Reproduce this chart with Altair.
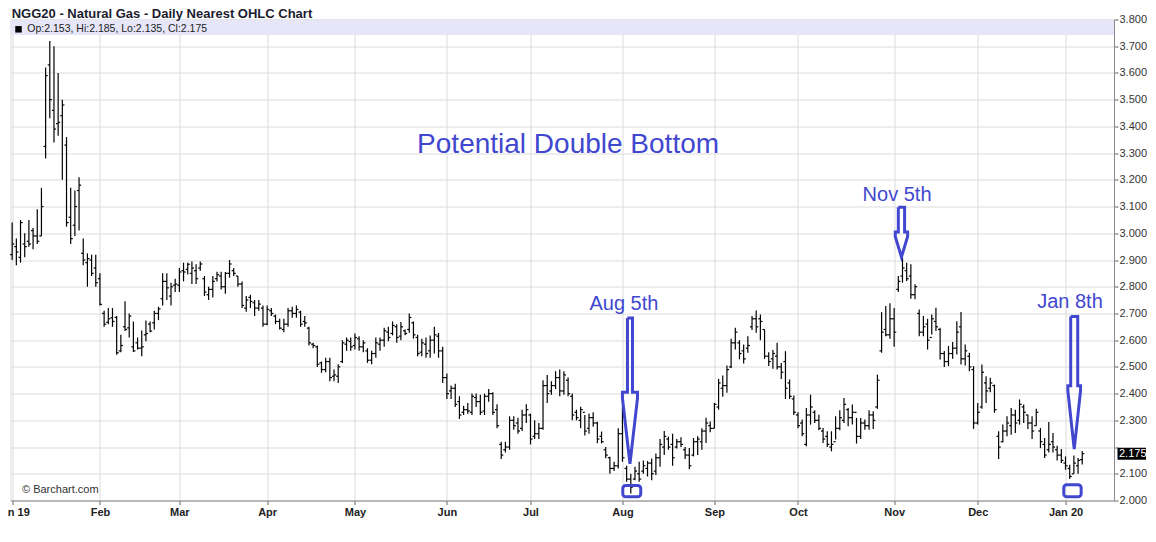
import altair as alt
import pandas as pd

TITLE = "NGG20 - Natural Gas - Daily Nearest OHLC Chart"
HEADLINE = "Potential Double Bottom"
SOURCE = "\u00a9 Barchart.com"

# Daily OHLC, one value per trading day (Jan 2 2019 .. Jan 8 2020)
OPEN = [
    2.92, 2.95, 2.91, 2.96, 2.97, 3.01, 2.99, 2.99, 3.325, 3.63,
    3.46, 3.41, 3.44, 3.33, 3.06, 3.03, 3.16, 2.925, 2.89, 2.90,
    2.87, 2.83, 2.70, 2.667, 2.684, 2.685, 2.56, 2.65, 2.646, 2.575,
    2.59, 2.57, 2.62, 2.66, 2.665, 2.70, 2.755, 2.82, 2.765, 2.806,
    2.806, 2.86, 2.865, 2.85, 2.86, 2.87, 2.83, 2.77, 2.79, 2.83,
    2.84, 2.80, 2.85, 2.86, 2.84, 2.81, 2.72, 2.76, 2.74, 2.72,
    2.72, 2.66, 2.71, 2.69, 2.67, 2.64, 2.66, 2.71, 2.70, 2.705,
    2.67, 2.645, 2.585, 2.575, 2.515, 2.49, 2.52, 2.465, 2.465, 2.52,
    2.585, 2.595, 2.58, 2.605, 2.575, 2.56, 2.525, 2.55, 2.585, 2.60,
    2.63, 2.625, 2.65, 2.615, 2.635, 2.64, 2.665, 2.61, 2.555, 2.585,
    2.56, 2.60, 2.615, 2.56, 2.46, 2.41, 2.42, 2.37, 2.33, 2.34,
    2.33, 2.385, 2.37, 2.335, 2.39, 2.40, 2.34, 2.21, 2.19, 2.20,
    2.30, 2.29, 2.27, 2.32, 2.32, 2.24, 2.25, 2.27, 2.43, 2.41,
    2.43, 2.46, 2.41, 2.45, 2.39, 2.33, 2.30, 2.33, 2.27, 2.31,
    2.29, 2.24, 2.19, 2.16, 2.12, 2.13, 2.25, 2.12, 2.08, 2.08,
    2.10, 2.11, 2.12, 2.14, 2.11, 2.16, 2.20, 2.23, 2.21, 2.20,
    2.22, 2.19, 2.17, 2.17, 2.22, 2.22, 2.26, 2.28, 2.27, 2.35,
    2.42, 2.43, 2.50, 2.59, 2.59, 2.56, 2.57, 2.65, 2.68, 2.68,
    2.64, 2.54, 2.53, 2.54, 2.50, 2.52, 2.44, 2.38, 2.32, 2.29,
    2.21, 2.32, 2.33, 2.30, 2.26, 2.24, 2.20, 2.22, 2.27, 2.30,
    2.34, 2.31, 2.33, 2.24, 2.29, 2.28, 2.32, 2.35, 2.56, 2.64,
    2.62, 2.68, 2.79, 2.84, 2.86, 2.84, 2.77, 2.70, 2.63, 2.66,
    2.61, 2.67, 2.64, 2.55, 2.52, 2.55, 2.57, 2.65, 2.53, 2.54,
    2.49, 2.29, 2.35, 2.44, 2.42, 2.43, 2.24, 2.22, 2.26, 2.28,
    2.32, 2.30, 2.35, 2.32, 2.29, 2.28, 2.26, 2.21, 2.19, 2.22,
    2.19, 2.17, 2.14, 2.12, 2.10, 2.13, 2.153,
]
HIGH = [
    3.04, 2.98, 3.05, 3.00, 3.05, 3.02, 3.09, 3.17, 3.62, 3.72,
    3.70, 3.60, 3.50, 3.36, 3.17, 3.16, 3.21, 2.98, 2.925, 2.92,
    2.92, 2.85, 2.71, 2.72, 2.72, 2.69, 2.62, 2.746, 2.70, 2.67,
    2.61, 2.636, 2.674, 2.67, 2.71, 2.725, 2.85, 2.85, 2.815, 2.83,
    2.87, 2.89, 2.89, 2.894, 2.884, 2.894, 2.84, 2.80, 2.84, 2.856,
    2.856, 2.855, 2.90, 2.87, 2.84, 2.82, 2.765, 2.77, 2.75, 2.75,
    2.73, 2.73, 2.72, 2.696, 2.68, 2.68, 2.72, 2.725, 2.73, 2.71,
    2.69, 2.65, 2.59, 2.58, 2.52, 2.534, 2.534, 2.49, 2.51, 2.60,
    2.61, 2.61, 2.625, 2.615, 2.60, 2.57, 2.56, 2.61, 2.61, 2.646,
    2.65, 2.67, 2.66, 2.668, 2.64, 2.70, 2.67, 2.62, 2.605, 2.61,
    2.617, 2.65, 2.627, 2.575, 2.475, 2.43, 2.437, 2.39, 2.355, 2.365,
    2.40, 2.40, 2.396, 2.40, 2.417, 2.405, 2.36, 2.22, 2.22, 2.315,
    2.315, 2.31, 2.34, 2.36, 2.325, 2.30, 2.29, 2.45, 2.47, 2.446,
    2.484, 2.49, 2.484, 2.46, 2.40, 2.34, 2.351, 2.32, 2.326, 2.33,
    2.295, 2.258, 2.20, 2.164, 2.145, 2.27, 2.35, 2.13, 2.10, 2.126,
    2.145, 2.15, 2.148, 2.157, 2.176, 2.23, 2.26, 2.239, 2.25, 2.23,
    2.237, 2.20, 2.196, 2.234, 2.24, 2.27, 2.31, 2.296, 2.365, 2.455,
    2.468, 2.505, 2.605, 2.646, 2.60, 2.584, 2.615, 2.69, 2.711, 2.696,
    2.64, 2.555, 2.563, 2.59, 2.515, 2.559, 2.453, 2.393, 2.33, 2.303,
    2.346, 2.396, 2.338, 2.321, 2.271, 2.259, 2.259, 2.315, 2.338, 2.384,
    2.346, 2.359, 2.309, 2.309, 2.303, 2.338, 2.334, 2.471, 2.705, 2.728,
    2.738, 2.72, 2.84, 2.909, 2.89, 2.884, 2.809, 2.715, 2.69, 2.68,
    2.696, 2.721, 2.646, 2.559, 2.578, 2.593, 2.671, 2.705, 2.584, 2.553,
    2.503, 2.365, 2.509, 2.465, 2.459, 2.434, 2.259, 2.284, 2.315, 2.346,
    2.34, 2.378, 2.359, 2.321, 2.315, 2.343, 2.271, 2.234, 2.294, 2.253,
    2.205, 2.193, 2.165, 2.134, 2.168, 2.159, 2.185,
]
LOW = [
    2.90, 2.88, 2.89, 2.91, 2.95, 2.94, 2.96, 2.99, 3.28, 3.43,
    3.34, 3.365, 3.20, 3.025, 2.96, 2.99, 3.01, 2.88, 2.80, 2.84,
    2.80, 2.73, 2.65, 2.66, 2.65, 2.545, 2.555, 2.634, 2.61, 2.556,
    2.565, 2.54, 2.596, 2.63, 2.64, 2.675, 2.73, 2.75, 2.73, 2.78,
    2.78, 2.82, 2.846, 2.81, 2.81, 2.86, 2.765, 2.75, 2.76, 2.82,
    2.79, 2.774, 2.834, 2.84, 2.80, 2.72, 2.706, 2.72, 2.69, 2.71,
    2.65, 2.656, 2.69, 2.66, 2.64, 2.63, 2.65, 2.684, 2.684, 2.65,
    2.65, 2.58, 2.57, 2.50, 2.478, 2.48, 2.446, 2.446, 2.44, 2.515,
    2.56, 2.56, 2.565, 2.56, 2.555, 2.515, 2.51, 2.534, 2.56, 2.575,
    2.596, 2.618, 2.59, 2.60, 2.618, 2.628, 2.606, 2.54, 2.54, 2.534,
    2.534, 2.55, 2.534, 2.44, 2.38, 2.38, 2.35, 2.305, 2.32, 2.325,
    2.32, 2.35, 2.32, 2.32, 2.37, 2.32, 2.27, 2.155, 2.18, 2.19,
    2.265, 2.25, 2.26, 2.29, 2.21, 2.23, 2.23, 2.265, 2.365, 2.396,
    2.417, 2.39, 2.396, 2.39, 2.30, 2.30, 2.27, 2.243, 2.25, 2.276,
    2.214, 2.214, 2.158, 2.10, 2.11, 2.12, 2.145, 2.07, 2.026, 2.076,
    2.07, 2.10, 2.09, 2.076, 2.095, 2.126, 2.17, 2.19, 2.13, 2.195,
    2.20, 2.155, 2.117, 2.165, 2.17, 2.19, 2.215, 2.255, 2.27, 2.34,
    2.388, 2.403, 2.496, 2.565, 2.528, 2.513, 2.553, 2.638, 2.628, 2.60,
    2.53, 2.503, 2.493, 2.49, 2.455, 2.38, 2.38, 2.32, 2.27, 2.24,
    2.203, 2.284, 2.29, 2.263, 2.215, 2.20, 2.184, 2.228, 2.263, 2.29,
    2.278, 2.284, 2.213, 2.23, 2.265, 2.265, 2.268, 2.343, 2.553, 2.615,
    2.605, 2.575, 2.78, 2.815, 2.821, 2.755, 2.753, 2.615, 2.615, 2.565,
    2.621, 2.634, 2.528, 2.50, 2.503, 2.53, 2.546, 2.509, 2.505, 2.484,
    2.268, 2.284, 2.343, 2.365, 2.405, 2.328, 2.155, 2.218, 2.24, 2.246,
    2.253, 2.284, 2.29, 2.268, 2.23, 2.28, 2.196, 2.159, 2.18, 2.18,
    2.15, 2.14, 2.115, 2.08, 2.10, 2.10, 2.135,
]
CLOSE = [
    2.96, 2.93, 3.04, 2.95, 2.96, 2.99, 2.97, 3.10, 3.59, 3.50,
    3.39, 3.415, 3.48, 3.04, 2.98, 3.10, 3.18, 2.90, 2.905, 2.85,
    2.815, 2.734, 2.66, 2.68, 2.67, 2.553, 2.58, 2.64, 2.69, 2.56,
    2.57, 2.575, 2.625, 2.634, 2.70, 2.717, 2.82, 2.796, 2.80, 2.81,
    2.855, 2.855, 2.884, 2.87, 2.83, 2.885, 2.78, 2.79, 2.82, 2.845,
    2.80, 2.85, 2.885, 2.85, 2.81, 2.73, 2.75, 2.745, 2.72, 2.735,
    2.66, 2.715, 2.70, 2.67, 2.645, 2.66, 2.71, 2.70, 2.715, 2.66,
    2.665, 2.59, 2.58, 2.51, 2.49, 2.52, 2.46, 2.47, 2.50, 2.59,
    2.60, 2.575, 2.61, 2.575, 2.59, 2.525, 2.55, 2.59, 2.60, 2.635,
    2.61, 2.655, 2.61, 2.65, 2.625, 2.685, 2.62, 2.55, 2.59, 2.55,
    2.60, 2.62, 2.56, 2.46, 2.40, 2.42, 2.36, 2.32, 2.34, 2.335,
    2.39, 2.37, 2.33, 2.39, 2.40, 2.33, 2.28, 2.17, 2.20, 2.30,
    2.28, 2.26, 2.32, 2.34, 2.23, 2.25, 2.27, 2.43, 2.40, 2.43,
    2.46, 2.41, 2.47, 2.40, 2.32, 2.31, 2.34, 2.26, 2.31, 2.29,
    2.23, 2.22, 2.17, 2.12, 2.13, 2.25, 2.16, 2.08, 2.05, 2.11,
    2.08, 2.13, 2.14, 2.10, 2.16, 2.21, 2.24, 2.20, 2.16, 2.22,
    2.21, 2.17, 2.13, 2.22, 2.23, 2.26, 2.29, 2.27, 2.36, 2.44,
    2.43, 2.49, 2.59, 2.63, 2.55, 2.53, 2.58, 2.68, 2.65, 2.67,
    2.54, 2.52, 2.55, 2.50, 2.48, 2.42, 2.39, 2.33, 2.28, 2.25,
    2.32, 2.35, 2.30, 2.27, 2.23, 2.21, 2.21, 2.27, 2.31, 2.36,
    2.31, 2.33, 2.24, 2.29, 2.28, 2.32, 2.30, 2.45, 2.63, 2.62,
    2.68, 2.63, 2.82, 2.87, 2.83, 2.77, 2.80, 2.63, 2.65, 2.60,
    2.68, 2.65, 2.55, 2.52, 2.55, 2.57, 2.63, 2.53, 2.56, 2.50,
    2.29, 2.33, 2.48, 2.41, 2.44, 2.34, 2.20, 2.26, 2.29, 2.32,
    2.29, 2.36, 2.33, 2.29, 2.26, 2.33, 2.22, 2.17, 2.21, 2.20,
    2.17, 2.15, 2.13, 2.09, 2.14, 2.15, 2.175,
]

# first trading bar of each month and its axis label
MONTH_BARS = [0, 21, 40, 61, 82, 104, 124, 146, 168, 188, 211, 231, 252]
MONTH_LABELS = ["Jan 19", "Feb", "Mar", "Apr", "May", "Jun", "Jul",
                "Aug", "Sep", "Oct", "Nov", "Dec", "Jan 20"]
PRICE_TICKS = [2.0, 2.1, 2.2, 2.3, 2.4, 2.5, 2.6, 2.7, 2.8, 2.9,
               3.0, 3.1, 3.2, 3.3, 3.4, 3.5, 3.6, 3.7, 3.8]

# annotations (bar index / price units)
HEADLINE_BAR = 133.0
HEADLINE_PRICE = 3.30
CALLOUT_TEXT = ["Aug 5th", "Nov 5th", "Jan 8th"]
CALLOUT_BAR = [146.36, 211.7, 253.06]
CALLOUT_PRICE = [2.714, 3.120, 2.719]
ARROW_BAR = [147.8, 212.75, 254.08]
ARROW_TOP = [2.683, 3.097, 2.689]
ARROW_NECK = [2.405, 3.005, 2.429]
ARROW_SHOULDER = [2.383, 2.988, 2.411]
ARROW_TIP = [2.137, 2.911, 2.192]
ARROW_SHAFT = [0.6, 0.75, 0.84]
ARROW_HEAD = [1.8, 1.48, 1.52]
BOX_BAR_FROM = [146.08, 251.58]
BOX_BAR_TO = [150.38, 255.74]
BOX_PRICE_FROM = [2.014, 2.014]
BOX_PRICE_TO = [2.056, 2.059]

BLUE = "#4147cf"
FONT = "Liberation Sans"
W, H = 1103.5, 481

n = len(CLOSE)
assert len(OPEN) == len(HIGH) == len(LOW) == n

bars = pd.DataFrame({"i": list(range(n)), "o": OPEN, "h": HIGH, "l": LOW, "c": CLOSE})

x_scale = alt.Scale(domain=[-0.4, 263.6], nice=False, zero=False)
y_scale = alt.Scale(domain=[2.0, 3.8], nice=False, zero=False)

labels_js = "[" + ",".join("'" + s + "'" for s in MONTH_LABELS) + "]"
bars_js = "[" + ",".join(str(b) for b in MONTH_BARS) + "]"
x_axis = alt.Axis(
    values=MONTH_BARS, labelExpr=f"{labels_js}[indexof({bars_js}, datum.value)]",
    title=None, grid=True, gridColor="#dcdcdc", gridWidth=1,
    domainColor="#8a8a8a", tickColor="#666", tickSize=4,
    labelFont=FONT, labelFontSize=11, labelFontWeight="bold", labelColor="#222",
    labelPadding=2, labelFlush=False, labelOverlap=False,
)
y_axis = alt.Axis(
    orient="right", values=PRICE_TICKS,
    labelExpr="abs(datum.value - 2.2) < 0.0001 ? '' : format(datum.value, '.3f')",
    title=None, grid=True, gridColor="#dcdcdc", gridWidth=1,
    domainColor="#8a8a8a", tickColor="#666", tickSize=4,
    labelFont=FONT, labelFontSize=11, labelColor="#333",
    labelPadding=1, labelFlush=False, labelOverlap=False,
)


def X(field):
    return alt.X(field, type="quantitative", scale=x_scale, axis=x_axis)


def Y(field):
    return alt.Y(field, type="quantitative", scale=y_scale, axis=y_axis)


one = pd.DataFrame({"k": [0]})

band = alt.Chart(one).mark_rect(color="#e6e6f8").encode(
    x=alt.value(0), x2=alt.value(W), y=alt.value(0.5), y2=alt.value(15.5))

base = alt.Chart(bars)
hl = base.mark_rule(color="black", strokeWidth=1.2).encode(x=X("i"), y=Y("l"), y2="h")
op = base.transform_calculate(xo="datum.i - 0.5").mark_rule(
    color="black", strokeWidth=1.2).encode(x=X("xo"), x2="i", y=Y("o"))
cl = base.transform_calculate(xc="datum.i + 0.5").mark_rule(
    color="black", strokeWidth=1.2).encode(x=X("i"), x2="xc", y=Y("c"))

# arrows as closed outlines
rows = []
for j, name in enumerate(CALLOUT_TEXT):
    c, s, h = ARROW_BAR[j], ARROW_SHAFT[j], ARROW_HEAD[j]
    top, neck, sh, tip = ARROW_TOP[j], ARROW_NECK[j], ARROW_SHOULDER[j], ARROW_TIP[j]
    pts = [(c - s, top), (c + s, top), (c + s, neck), (c + h, neck), (c + h, sh),
           (c, tip), (c - h, sh), (c - h, neck), (c - s, neck), (c - s, top)]
    for k, (bx, py) in enumerate(pts):
        rows.append({"name": name, "k": k, "bx": bx, "py": py})
arrow_df = pd.DataFrame(rows)
arrows = alt.Chart(arrow_df).mark_line(
    color=BLUE, strokeWidth=3, strokeJoin="miter").encode(
    x=X("bx"), y=Y("py"), detail="name:N", order="k:Q")

box_df = pd.DataFrame({"b0": BOX_BAR_FROM, "b1": BOX_BAR_TO,
                       "p0": BOX_PRICE_FROM, "p1": BOX_PRICE_TO})
boxes = alt.Chart(box_df).mark_rect(
    fillOpacity=0, stroke=BLUE, strokeWidth=3, cornerRadius=3).encode(
    x=X("b0"), x2="b1", y=Y("p0"), y2="p1")

callout_df = pd.DataFrame({"t": CALLOUT_TEXT, "b": CALLOUT_BAR, "p": CALLOUT_PRICE})
callouts = alt.Chart(callout_df).mark_text(
    font=FONT, fontSize=20, color=BLUE, align="center", baseline="alphabetic").encode(
    x=X("b"), y=Y("p"), text="t:N")

head_df = pd.DataFrame({"t": [HEADLINE], "b": [HEADLINE_BAR], "p": [HEADLINE_PRICE]})
headline = alt.Chart(head_df).mark_text(
    font=FONT, fontSize=28, color=BLUE, align="center", baseline="alphabetic").encode(
    x=X("b"), y=Y("p"), text="t:N")

title = alt.Chart(one).mark_text(
    font=FONT, fontSize=13, fontWeight="bold", color="#1c1c30",
    align="left", baseline="alphabetic").encode(
    x=alt.value(1.2), y=alt.value(-1.4), text=alt.value(TITLE))

square = alt.Chart(one).mark_square(size=42, color="black", opacity=1).encode(
    x=alt.value(8), y=alt.value(9.8))

ohlc_text = (f"Op:{OPEN[-1]:.3f}, Hi:{HIGH[-1]:.3f}, "
             f"Lo:{LOW[-1]:.3f}, Cl:{CLOSE[-1]:.3f}")
legend_text = alt.Chart(one).mark_text(
    font=FONT, fontSize=10.5, color="#222", align="left", baseline="alphabetic").encode(
    x=alt.value(16.8), y=alt.value(12), text=alt.value(ohlc_text))

source = alt.Chart(one).mark_text(
    font=FONT, fontSize=11, color="#333", align="left", baseline="alphabetic").encode(
    x=alt.value(11.5), y=alt.value(473.5), text=alt.value(SOURCE))

last_df = pd.DataFrame({"p": [CLOSE[-1]], "p0": [CLOSE[-1] - 0.0225],
                        "p1": [CLOSE[-1] + 0.0225], "t": [f"{CLOSE[-1]:.3f}"]})
last_box = alt.Chart(last_df).mark_rect(color="black").encode(
    x=alt.value(W + 3.5), x2=alt.value(W + 32), y=Y("p0"), y2="p1")
last_txt = alt.Chart(last_df).mark_text(
    font=FONT, fontSize=11, color="white", align="left", baseline="middle").encode(
    x=alt.value(W + 5), y=Y("p"), text="t:N")

chart = alt.layer(
    band, hl, op, cl, arrows, boxes, callouts, headline,
    title, square, legend_text, source, last_box, last_txt,
).properties(
    width=W, height=H,
    autosize=alt.AutoSizeParams(type="none"),
    padding={"left": 2.5, "top": 11.5, "right": 33, "bottom": 28},
).configure_view(
    stroke="#999", strokeWidth=1,
).configure(font=FONT)

chart.save("out.html", embed_options={"renderer": "svg", "actions": False})
